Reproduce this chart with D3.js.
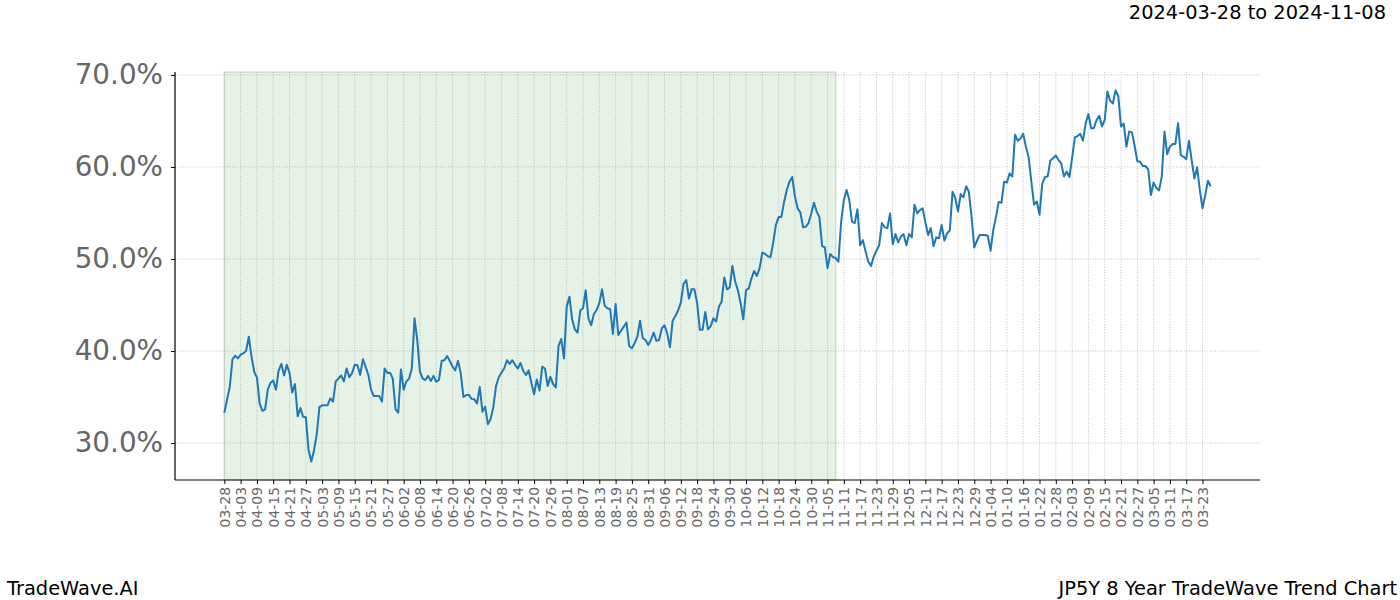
<!DOCTYPE html>
<html>
<head>
<meta charset="utf-8">
<script src="https://cdn.jsdelivr.net/npm/d3@7"></script>
<style>
  html, body { margin: 0; padding: 0; background: #fff; }
  svg { display: block; font-family: "DejaVu Sans", sans-serif; }
</style>
</head>
<body>
<svg id="chart" width="1400" height="600"></svg>
<script>
// ---------------- data ----------------
const startDate = "2024-03-28";
const shadeStart = "2024-03-28";
const shadeEnd = "2024-11-08";
const titleText = "2024-03-28 to 2024-11-08";
const footerLeft = "TradeWave.AI";
const footerRight = "JP5Y 8 Year TradeWave Trend Chart";

// daily values (%), 2024-03-28 .. 2025-03-26
const values = [
  33.3, 34.7, 36.1, 39.1, 39.5, 39.2, 39.6, 39.75, 40.0, 41.55, 39.4, 37.75, 37.1, 34.3, 33.5, 33.65,
  35.8, 36.55, 36.8, 35.8, 37.9, 38.6, 37.35, 38.5, 37.6, 35.5, 36.4, 32.9, 33.8, 32.85, 32.8, 29.25,
  28.0, 29.2, 30.9, 33.9, 34.1, 34.1, 34.1, 34.85, 34.5, 36.7, 37.0, 37.35, 36.7, 38.1, 37.15, 37.6,
  38.5, 38.45, 37.4, 39.1,
  38.3, 37.4, 35.8, 35.1, 35.1, 35.1, 34.5, 38.1, 37.6, 37.65, 37.0, 33.65, 33.3, 38.0, 35.8, 36.7,
  37.0, 38.1, 43.55, 41.2, 37.75, 37.0, 36.85, 37.3, 36.75, 37.3, 36.65, 36.85, 38.95, 39.0, 39.45, 38.9,
  38.3, 37.9, 38.95, 37.6, 35.0, 35.2, 35.25, 34.8, 34.75, 34.3, 36.1, 33.4, 33.95, 32.05, 32.6, 33.9,
  36.2, 37.15, 37.65, 38.1,
  39.0, 38.6, 39.0, 38.5, 38.1, 38.7, 37.85, 37.4, 37.9, 36.55, 35.3, 36.9, 35.7, 38.3, 38.1, 36.2,
  37.2, 36.4, 36.05, 40.55, 41.3, 39.2, 44.8, 45.9, 43.45, 42.35, 42.0, 44.4, 44.65, 46.6, 43.55, 42.8,
  44.0, 44.45, 45.2, 46.7, 44.9, 44.65, 44.55, 41.85, 45.1, 41.75, 42.2, 42.65, 43.1, 40.55, 40.3, 40.85,
  41.55, 43.3,
  41.4, 41.2, 40.65, 41.2, 42.0, 41.1, 41.2, 42.45, 42.8, 41.9, 40.4, 43.3, 43.8, 44.4, 45.25, 47.3,
  47.7, 45.7, 46.7, 46.7, 45.25, 42.3, 42.3, 44.25, 42.35, 42.7, 43.55, 43.2, 44.8, 45.35, 48.0, 46.7,
  46.9, 49.25, 47.55, 46.6, 45.2, 43.45, 46.6, 46.8, 47.9, 48.7, 48.15, 49.0, 50.7, 50.55, 50.3, 50.2,
  51.8, 53.7, 54.55, 54.55,
  56.2, 57.5, 58.4, 58.9, 56.8, 55.5, 55.05, 53.45, 53.5, 53.9, 54.95, 56.1, 55.15, 54.55, 51.4, 51.25,
  49.0, 50.55, 50.2, 50.1, 49.7, 54.05, 56.4, 57.5, 56.4, 54.05, 53.9, 55.4, 51.5, 52.05, 50.8, 49.7,
  49.25, 50.25, 50.9, 51.5, 53.9, 53.45, 53.35, 54.95, 51.6, 52.7, 51.8, 52.45, 52.7, 51.5, 52.7, 52.35,
  55.9, 54.95, 55.3, 55.5, 54.0,
  52.6, 53.35, 51.4, 52.35, 52.25, 53.7, 52.0, 52.8, 53.1, 57.3, 56.6, 55.15, 57.05, 56.7, 57.9, 57.3,
  54.6, 51.25, 52.0, 52.6, 52.6, 52.6, 52.5, 50.9, 53.15, 54.6, 56.2, 56.1, 58.4, 58.3, 59.3, 58.95,
  63.5, 62.85, 63.1, 63.6, 62.2, 61.05, 58.4, 55.9, 56.25, 54.8, 58.15, 58.9, 58.95, 60.7, 60.95, 61.25,
  60.75, 60.4,
  58.95, 59.5, 58.9, 60.95, 63.2, 63.35, 63.6, 62.85, 64.75, 65.75, 64.2, 64.2, 65.1, 65.55, 64.4, 65.1,
  68.2, 67.2, 66.9, 68.3, 67.7, 64.4, 64.7, 62.2, 63.85, 63.75, 62.3, 60.6, 60.6, 60.1, 60.1, 59.75,
  56.95, 58.3, 57.7, 57.45, 58.95, 63.85, 61.4, 62.2, 62.5, 62.5, 64.75, 61.3, 61.1, 60.85, 62.85, 60.75,
  58.75, 59.95, 57.5, 55.5, 56.95, 58.5, 57.9
];

const tickDates = [
  "2024-03-28","2024-04-03","2024-04-09","2024-04-15","2024-04-21","2024-04-27","2024-05-03","2024-05-09",
  "2024-05-15","2024-05-21","2024-05-27","2024-06-02","2024-06-08","2024-06-14","2024-06-20","2024-06-26",
  "2024-07-02","2024-07-08","2024-07-14","2024-07-20","2024-07-26","2024-08-01","2024-08-07","2024-08-13",
  "2024-08-19","2024-08-25","2024-08-31","2024-09-06","2024-09-12","2024-09-18","2024-09-24","2024-09-30",
  "2024-10-06","2024-10-12","2024-10-18","2024-10-24","2024-10-30","2024-11-05","2024-11-11","2024-11-17",
  "2024-11-23","2024-11-29","2024-12-05","2024-12-11","2024-12-17","2024-12-23","2024-12-29","2025-01-04",
  "2025-01-10","2025-01-16","2025-01-22","2025-01-28","2025-02-03","2025-02-09","2025-02-15","2025-02-21",
  "2025-02-27","2025-03-05","2025-03-11","2025-03-17","2025-03-23"
];
const yTicks = [30, 40, 50, 60, 70];

// ---------------- layout ----------------
const svg = d3.select("#chart");
const plot = { left: 175, right: 1260, top: 72, bottom: 480 };
const parse = d3.utcParse("%Y-%m-%d");
const fmt = d3.utcFormat("%m-%d");

const start = parse(startDate);
const data = values.map((v, i) => ({ date: d3.utcDay.offset(start, i), value: v }));
const first = data[0].date, last = data[data.length - 1].date;
const spanMs = last - first;
const pad = spanMs * 0.05;

const x = d3.scaleUtc()
  .domain([new Date(+first - pad), new Date(+last + pad)])
  .range([plot.left, plot.right]);

const vMin = d3.min(values), vMax = d3.max(values);
const vPad = (vMax - vMin) * 0.05;
const y = d3.scaleLinear()
  .domain([vMin - vPad, vMax + vPad])
  .range([plot.bottom, plot.top]);

// shaded span
svg.append("rect")
  .attr("x", x(parse(shadeStart)))
  .attr("y", plot.top)
  .attr("width", x(parse(shadeEnd)) - x(parse(shadeStart)))
  .attr("height", plot.bottom - plot.top)
  .attr("fill", "green")
  .attr("fill-opacity", 0.1)
  .attr("stroke", "#9aa89a")
  .attr("stroke-opacity", 0.35)
  .attr("stroke-width", 1.5);

// grid
const tickDateObjs = tickDates.map(parse);
svg.append("g").selectAll("line")
  .data(tickDateObjs).join("line")
  .attr("x1", d => x(d)).attr("x2", d => x(d))
  .attr("y1", plot.top).attr("y2", plot.bottom)
  .attr("stroke", "#999").attr("stroke-width", 0.6)
  .attr("stroke-dasharray", "1,1.6");
svg.append("g").selectAll("line")
  .data(yTicks).join("line")
  .attr("x1", plot.left).attr("x2", plot.right)
  .attr("y1", d => y(d)).attr("y2", d => y(d))
  .attr("stroke", "#999").attr("stroke-width", 0.6)
  .attr("stroke-dasharray", "1,1.6");

// line
svg.append("path")
  .datum(data)
  .attr("fill", "none")
  .attr("stroke", "#1f77b4")
  .attr("stroke-width", 2)
  .attr("stroke-linejoin", "round")
  .attr("d", d3.line().x(d => x(d.date)).y(d => y(d.value)));

// axes
const xAxis = d3.axisBottom(x)
  .tickValues(tickDateObjs)
  .tickFormat(fmt)
  .tickSize(4).tickPadding(3);
const gx = svg.append("g")
  .attr("transform", `translate(0,${plot.bottom})`)
  .call(xAxis);
gx.select(".domain").attr("stroke", "#000").attr("stroke-width", 1.2)
  .attr("d", `M${plot.left},0H${plot.right}`);
gx.selectAll(".tick line").attr("stroke", "#000").attr("stroke-width", 1);
gx.selectAll(".tick text")
  .attr("font-family", "DejaVu Sans")
  .attr("font-size", "13.9px")
  .attr("fill", "#666")
  .attr("transform", "rotate(-90)")
  .attr("text-anchor", "end")
  .attr("x", -7)
  .attr("y", 0)
  .attr("dy", "0.35em");

const yAxis = d3.axisLeft(y)
  .tickValues(yTicks)
  .tickFormat(d => d.toFixed(1) + "%")
  .tickSize(4).tickPadding(8);
const gy = svg.append("g")
  .attr("transform", `translate(${plot.left},0)`)
  .call(yAxis);
gy.select(".domain").attr("stroke", "#000").attr("stroke-width", 1.2)
  .attr("d", `M0,${plot.top}V${plot.bottom}`);
gy.selectAll(".tick line").attr("stroke", "#000").attr("stroke-width", 1);
gy.selectAll(".tick text")
  .attr("font-family", "DejaVu Sans")
  .attr("font-size", "27.8px")
  .attr("fill", "#666");

// titles
svg.append("text")
  .attr("x", 1386).attr("y", 19)
  .attr("text-anchor", "end")
  .attr("font-size", "19.4px")
  .attr("fill", "#000")
  .text(titleText);
svg.append("text")
  .attr("x", 7).attr("y", 595)
  .attr("font-size", "19.4px")
  .attr("fill", "#000")
  .text(footerLeft);
svg.append("text")
  .attr("x", 1397).attr("y", 595)
  .attr("text-anchor", "end")
  .attr("font-size", "19.4px")
  .attr("fill", "#000")
  .text(footerRight);
</script>
</body>
</html>
